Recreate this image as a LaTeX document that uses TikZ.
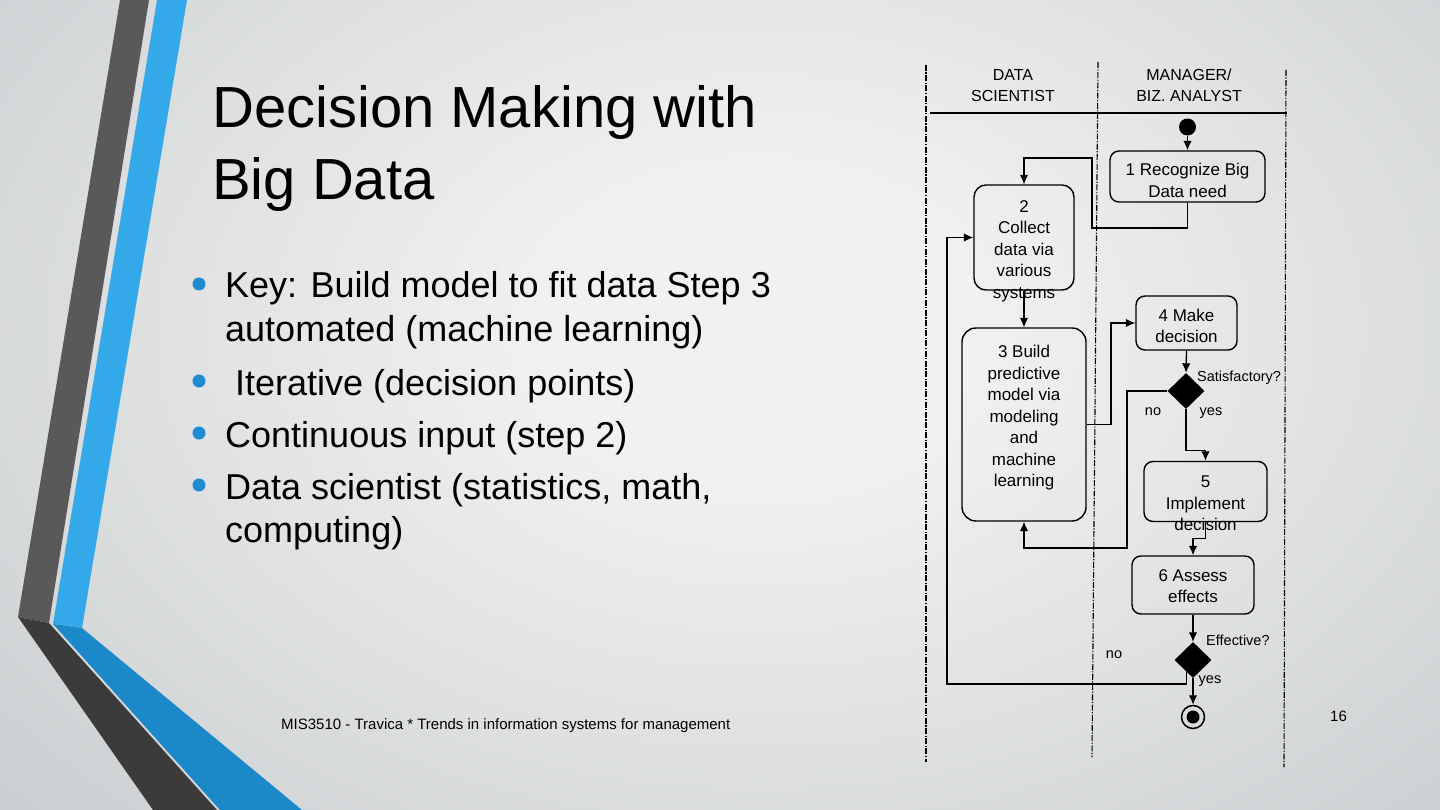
\documentclass[tikz,border=0pt]{standalone}
\usepackage{fontspec}
\setmainfont{Liberation Sans}
\usetikzlibrary{arrows.meta,shapes.geometric,calc}
\definecolor{bgout}{HTML}{BFC3C5}
\definecolor{bgin}{HTML}{F0F1F2}
\definecolor{stripegray}{HTML}{595959}
\definecolor{stripedark}{HTML}{3B3B3B}
\definecolor{stripeblue}{HTML}{34A9E9}
\definecolor{stripedeep}{HTML}{1B88C9}
\definecolor{dotblue}{HTML}{1F8BD0}
\pgfdeclareradialshading{slidebg}{\pgfpoint{0bp}{0bp}}%
  {color(0bp)=(bgin); color(6bp)=(bgin); color(36bp)=(bgout); color(50bp)=(bgout)}
\newcommand{\dg}{\fontsize{17}{21.5}\selectfont}
\newcommand{\dgs}{\fontsize{14.5}{17}\selectfont}

\begin{document}
\begin{tikzpicture}[x=1pt,y=-1pt,>={Latex[length=9.5pt,width=8.5pt]},
  act/.style={draw,line width=1.4pt,rounded corners=9pt,inner sep=0pt},
  tx/.style={align=center,font=\dg,inner sep=0pt},
  hd/.style={align=center,font=\fontsize{16}{21}\selectfont,inner sep=0pt},
  fl/.style={->,line width=1.3pt},
  dec/.style={diamond,fill=black,inner sep=0pt,minimum width=37pt,minimum height=36pt},
  lane/.style={line width=1.1pt,dash pattern=on 6pt off 1.5pt on 1.2pt off 1.5pt},
  lbl/.style={font=\dgs,inner sep=0pt},
  bul/.style={anchor=base west,font=\fontsize{36}{43}\selectfont,inner sep=0pt},
  endn/.style={circle,draw,line width=1.5pt,minimum size=23pt,inner sep=0pt,
               path picture={\fill (path picture bounding box.center) circle (6.5pt);}}]
\useasboundingbox (0,0) rectangle (1440,810);
% ---------------- slide background
\begin{scope}
  \clip (0,0) rectangle (1440,810);
  \shade[shading=slidebg] (-140,-290) rectangle (1660,950);
\end{scope}
\fill[stripegray] (120,0) -- (149,0) -- (49,623) -- (18,617) -- cycle;
\fill[stripedark] (18,617) -- (49,623) -- (217,810) -- (153,810) -- cycle;
\fill[stripeblue] (157,0) -- (187,0) -- (82,628) -- (53,624) -- cycle;
\fill[stripedeep] (53,624) -- (82,628) -- (302,810) -- (220,810) -- cycle;
% ---------------- title and bullets
\node[anchor=base west,font=\fontsize{58}{72}\selectfont,inner sep=0pt] (ttl1) at (212,128) {Decision Making with};
\node[anchor=base west,font=\fontsize{58}{72}\selectfont,inner sep=0pt] (ttl2) at (212,200) {Big Data};
\foreach \y in {284,381,433,485} \fill[dotblue] (199,\y) circle (6.5pt);
\node[bul] (k1) at (225,298) {Key: Build model to fit data Step 3};
\node[bul] (k2) at (225,341) {automated (machine learning)};
\node[bul] (k3) at (235,395) {Iterative (decision points)};
\node[bul] (k4) at (225,447) {Continuous input (step 2)};
\node[bul] (k5) at (225,499) {Data scientist (statistics, math,};
\node[bul] (k6) at (225,542) {computing)};
\node[anchor=base west,font=\fontsize{15}{17}\selectfont,inner sep=0pt] (ft) at (281,729)
  {MIS3510 - Travica * Trends in information systems for management};
\node[anchor=base west,font=\fontsize{15}{17}\selectfont,inner sep=0pt] (pg) at (1330,721) {16};
% ---------------- swimlanes
\draw[lane] (926,65) -- (926,762);
\draw[lane] (1098,62) -- (1092,757);
\draw[lane] (1286,70) -- (1284,767);
\draw[line width=1.1pt] (930,113) -- (1287,113);
\node[hd] (lane1) at (1013,85.5) {DATA\\SCIENTIST};
\node[hd] (lane2) at (1189,85.5) {MANAGER/\\BIZ. ANALYST};
% ---------------- activities
\node[circle,fill,minimum size=17pt,inner sep=0pt] (st) at (1187.5,127) {};
\node[act,minimum width=155pt,minimum height=51pt] (s1) at (1187.5,176.5) {};
\node[tx] (t1) at (1187.5,180.5) {1 Recognize Big\\Data need};
\node[act,minimum width=100pt,minimum height=105pt,rounded corners=12pt] (s2) at (1024,237.5) {};
\node[tx] (t2) at (1024,251) {2\\Collect\\data via\\various\\systems};
\node[act,minimum width=124pt,minimum height=193pt,rounded corners=14pt] (s3) at (1024,424.5) {};
\node[tx] (t3) at (1024,418) {3 Build\\predictive\\model via\\modeling\\and\\machine\\learning};
\node[act,minimum width=101pt,minimum height=54pt] (s4) at (1186.5,323) {};
\node[tx] (t4) at (1186.5,326) {4 Make\\decision};
\node[dec] (d1) at (1186,391) {};
\node[act,minimum width=123pt,minimum height=60pt] (s5) at (1205.5,491.5) {};
\node[tx] (t5) at (1205.5,503.5) {5\\Implement\\decision};
\node[act,minimum width=122pt,minimum height=58pt] (s6) at (1193,585) {};
\node[tx] (t6) at (1193,586) {6 Assess\\effects};
\node[dec] (d2) at (1193,660) {};
\node[endn] (fin) at (1193,717) {};
% ---------------- guard labels
\node[lbl,anchor=west] (q1) at (1197,378) {Satisfactory?};
\node[lbl] (n1) at (1153,412) {no};
\node[lbl] (y1) at (1211,413) {yes};
\node[lbl,anchor=west] (q2) at (1206,640) {Effective?};
\node[lbl] (n2) at (1114,655) {no};
\node[lbl] (y2) at (1210,681) {yes};
% ---------------- flows
\draw[fl] (st) -- (s1.north);
\draw[fl] (s1.south) |- (1092,228) -- (1092,158) -| (s2.north);
\draw[fl] (s2.south) -- (s3.north);
\draw[fl] (s3.east) -| (1111,323) -- (s4.west);
\draw[fl] (s4.south) -- (d1.north);
\draw[fl] (d1.west) -| (1127,548) -| (s3.south);
\draw[fl] (d1.south) -- ++(0,41) -| (s5.north);
\draw[fl] (s5.south) -- ++(0,16) -| (s6.north);
\draw[fl] (s6.south) -- (d2.north);
\draw[fl] ($(d2.south)!0.35!(d2.west)$) |- (947,684) |- (s2.west);
\draw[fl] (d2.south) -- (fin.north);
\end{tikzpicture}
\end{document}
